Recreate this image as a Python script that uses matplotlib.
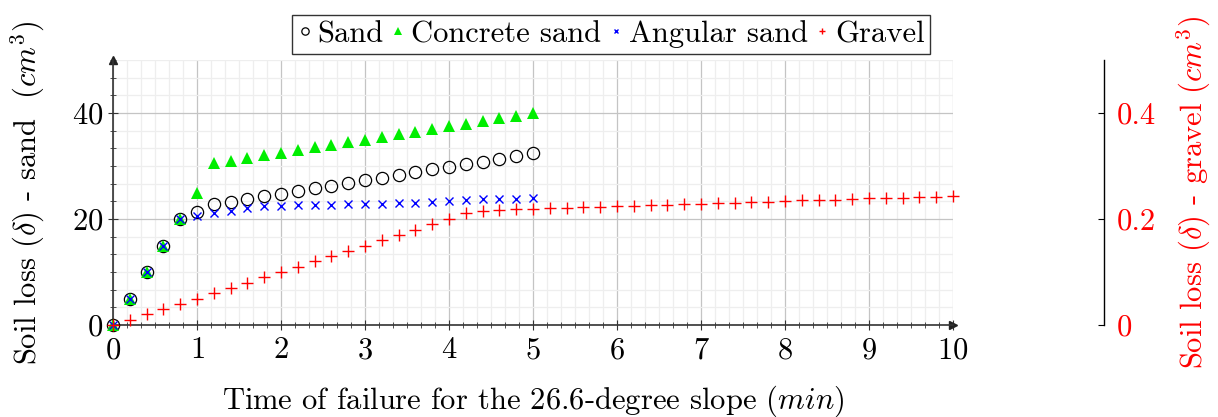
import matplotlib
matplotlib.use('Agg')
import matplotlib.pyplot as plt
from matplotlib.ticker import AutoMinorLocator, MultipleLocator
import numpy as np

plt.rcParams['font.family'] = 'cmr10'
plt.rcParams['mathtext.fontset'] = 'cm'
plt.rcParams['axes.unicode_minus'] = False
plt.rcParams['axes.formatter.use_mathtext'] = True

# sand series, time in minutes (0.2 min steps)
t_sand = [0, 0.2, 0.4, 0.6, 0.8, 1.0, 1.2, 1.4, 1.6, 1.8, 2.0, 2.2, 2.4, 2.6,
          2.8, 3.0, 3.2, 3.4, 3.6, 3.8, 4.0, 4.2, 4.4, 4.6, 4.8, 5.0]
sand = [0, 5, 10, 15, 20, 21.3, 22.8, 23.2, 23.8, 24.3, 24.7, 25.3, 25.8, 26.2,
        26.7, 27.3, 27.8, 28.3, 28.8, 29.4, 29.8, 30.3, 30.8, 31.3, 31.9, 32.4]
concrete_sand = [0, 5, 10, 15, 20, 25.0, 30.5, 31.0, 31.5, 32.0, 32.5, 33.0, 33.5,
                 34.0, 34.5, 35.0, 35.5, 36.0, 36.5, 37.0, 37.5, 38.0, 38.5, 39.0,
                 39.5, 40.0]
angular_sand = [0, 5, 10, 15, 20, 20.6, 21.2, 21.6, 22.1, 22.4, 22.4, 22.6, 22.6,
                22.7, 22.8, 22.9, 22.9, 23.1, 23.1, 23.3, 23.4, 23.5, 23.7, 23.7,
                23.8, 24.0]

# gravel, 0 to 10 min
t_gravel = [0, 0.2, 0.4, 0.6, 0.8, 1.0, 1.2, 1.4, 1.6, 1.8, 2.0, 2.2, 2.4, 2.6,
            2.8, 3.0, 3.2, 3.4, 3.6, 3.8, 4.0, 4.2, 4.4, 4.6, 4.8, 5.0, 5.2, 5.4,
            5.6, 5.8, 6.0, 6.2, 6.4, 6.6, 6.8, 7.0, 7.2, 7.4, 7.6, 7.8, 8.0, 8.2,
            8.4, 8.6, 8.8, 9.0, 9.2, 9.4, 9.6, 9.8, 10.0]
gravel = [0, 0.010, 0.020, 0.030, 0.040, 0.050, 0.060, 0.070, 0.080, 0.090, 0.100,
          0.110, 0.120, 0.130, 0.140, 0.150, 0.160, 0.170, 0.180, 0.190, 0.200,
          0.211, 0.215, 0.217, 0.218, 0.219, 0.220, 0.221, 0.222, 0.223, 0.224,
          0.225, 0.226, 0.227, 0.228, 0.229, 0.230, 0.231, 0.232, 0.233, 0.234,
          0.235, 0.236, 0.236, 0.237, 0.239, 0.239, 0.240, 0.241, 0.242, 0.244]

FS = 22

fig = plt.figure(figsize=(12.18, 4.17), dpi=100)
ax = fig.add_axes([0.0928, 0.2206, 0.6896, 0.6355])

ax.plot(t_sand, sand, 'o', mfc='none', mec='black', ms=8.8, mew=0.9,
        label='Sand', zorder=3, clip_on=False)
ax.plot(t_sand, concrete_sand, '^', color='#00ee00', ms=8.5, mew=0,
        label='Concrete sand', zorder=3, clip_on=False)
ax.plot(t_sand, angular_sand, 'x', color='blue', ms=6, mew=1.0,
        label='Angular sand', zorder=4, clip_on=False)

ax.set_xlim(0, 10)
ax.set_ylim(0, 50)
ax.xaxis.set_major_locator(MultipleLocator(1))
ax.yaxis.set_major_locator(MultipleLocator(20))
ax.xaxis.set_minor_locator(AutoMinorLocator(6))
ax.yaxis.set_minor_locator(AutoMinorLocator(6))
ax.grid(True, which='major', color='#c4c4c4', lw=0.9)
ax.grid(True, which='minor', color='#eeeeee', lw=0.9)
ax.set_axisbelow(True)
ax.tick_params(which='both', direction='inout', labelsize=FS, color='#333333')
ax.tick_params(which='major', length=7, width=0.8)
ax.tick_params(which='minor', length=5, width=0.6)
ax.tick_params(axis='x', pad=5)
for s in ['top', 'right']:
    ax.spines[s].set_visible(False)
for s in ['left', 'bottom']:
    ax.spines[s].set_color('#333333')
    ax.spines[s].set_linewidth(1.2)
ax.plot(1, 0, '>', color='#222222', ms=6, transform=ax.transAxes, clip_on=False)
ax.plot(0, 1, '^', color='#222222', ms=6, transform=ax.transAxes, clip_on=False)

ax.set_xlabel('Time of failure for the 26.6-degree slope $(min)$', fontsize=FS, labelpad=14)
ax.set_ylabel(r'Soil loss $(\delta)$ - sand  $(cm^3)$', fontsize=FS, labelpad=18)

ax2 = ax.twinx()
ax2.plot(t_gravel, gravel, '+', color='red', ms=8, mew=1.0, label='Gravel',
         clip_on=False)
ax2.set_ylim(0, 0.5)
ax2.set_yticks([0, 0.2, 0.4])
ax2.set_yticklabels(['0', '0.2', '0.4'])
for s in ['top', 'left', 'bottom']:
    ax2.spines[s].set_visible(False)
ax2.spines['right'].set_position(('outward', 108.7))
ax2.spines['right'].set_linewidth(1.0)
ax2.tick_params(axis='y', direction='in', length=4, width=0.8, labelsize=FS,
                labelcolor='red', pad=9)
ax2.set_ylabel(r'Soil loss $(\delta)$ - gravel $(cm^3)$', fontsize=FS,
               color='red', labelpad=14)

handles = ax.get_legend_handles_labels()[0] + ax2.get_legend_handles_labels()[0]
labels = ['Sand', 'Concrete sand', 'Angular sand', 'Gravel']
leg = fig.legend(handles, labels, loc='center', bbox_to_anchor=(0.502, 0.918),
                 ncol=4, fontsize=FS, frameon=True, fancybox=False,
                 edgecolor='black', handlelength=0.45, handletextpad=0.2,
                 columnspacing=0.25, borderpad=0.18, markerscale=0.6)
leg.get_frame().set_linewidth(1.0)

fig.savefig('out.png', dpi=100)
